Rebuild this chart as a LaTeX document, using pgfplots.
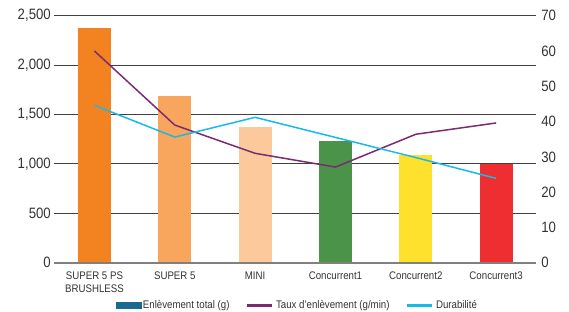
\documentclass[border=0pt]{standalone}
\usepackage{fontspec}
\setmainfont{Liberation Sans}[FakeStretch=0.88]
\usepackage{pgfplots}
\pgfplotsset{compat=1.18}
\definecolor{b1}{HTML}{F38220}
\definecolor{b2}{HTML}{F8A65E}
\definecolor{b3}{HTML}{FCC99D}
\definecolor{b4}{HTML}{4A9349}
\definecolor{b5}{HTML}{FEE12C}
\definecolor{b6}{HTML}{EE2E30}
\definecolor{legblue}{HTML}{1A6A8E}
\definecolor{tline}{HTML}{7B2B74}
\definecolor{dline}{HTML}{19B9E8}
\definecolor{txt}{HTML}{333333}
\begin{document}
\begin{tikzpicture}
\path[use as bounding box] (-54.3bp,-49.3bp) rectangle (514.7bp,262.7bp);
\begin{axis}[
 at={(0,0)}, anchor=south west,
 scale only axis, width=482bp, height=247bp,
 xmin=-0.5, xmax=5.5, ymin=0, ymax=2500,
 ytick={0,500,...,2500},
 xtick={0,...,5},
 xticklabels={{SUPER 5 PS\\BRUSHLESS},SUPER 5,MINI,Concurrent1,Concurrent2,Concurrent3},
 xticklabel style={align=center, font=\fontsize{11bp}{12.3bp}\selectfont, text=txt, anchor=north, yshift=-6bp},
 yticklabel style={font=\fontsize{15bp}{18bp}\selectfont, text=txt},
 /pgf/number format/assume math mode=true,
 /pgf/number format/1000 sep={,},
 scaled y ticks=false,
 axis line style={draw=none},
 major tick length=0pt,
 ymajorgrids, major grid style={black!75, line width=0.9bp},
 clip=false,
]
\addplot[ybar, bar width=33bp, bar shift=0pt, fill=b1, draw=none] coordinates {(0,2380)};
\addplot[ybar, bar width=33bp, bar shift=0pt, fill=b2, draw=none] coordinates {(1,1690)};
\addplot[ybar, bar width=33bp, bar shift=0pt, fill=b3, draw=none] coordinates {(2,1375)};
\addplot[ybar, bar width=33bp, bar shift=0pt, fill=b4, draw=none] coordinates {(3,1230)};
\addplot[ybar, bar width=33bp, bar shift=0pt, fill=b5, draw=none] coordinates {(4,1090)};
\addplot[ybar, bar width=33bp, bar shift=0pt, fill=b6, draw=none] coordinates {(5,1000)};
\draw[black!50, line width=1.6bp] (rel axis cs:0,0) -- (rel axis cs:1,0);
\end{axis}
\begin{axis}[
 at={(0,0)}, anchor=south west,
 scale only axis, width=482bp, height=247bp,
 xmin=-0.5, xmax=5.5, ymin=0, ymax=70,
 ytick={0,10,...,70},
 axis x line=none, axis y line*=right,
 axis line style={draw=none},
 major tick length=0pt,
 yticklabel style={font=\fontsize{15bp}{18bp}\selectfont, text=txt, xshift=1.5bp},
 /pgf/number format/assume math mode=true,
 legend columns=3,
 legend cell align=left,
 legend style={draw=none, fill=none, at={(0.504,-0.174)}, anchor=center,
   font=\fontsize{11bp}{13bp}\selectfont, text=txt,
   /tikz/every even column/.append style={column sep=14bp}},
]
\addlegendimage{legend image code/.code={\fill[legblue] (0bp,-3bp) rectangle (25bp,3bp);}}
\addlegendentry{Enlèvement total (g)}
\addplot[tline, line width=1.5bp, legend image code/.code={\draw[tline, line width=3.5bp] (0bp,0bp) -- (25bp,0bp);}]
 coordinates {(0,60) (1,39) (2,31) (3,27.1) (4,36.4) (5,39.6)};
\addlegendentry{Taux d'enlèvement (g/min)}
\addplot[dline, line width=1.5bp, legend image code/.code={\draw[dline, line width=3.5bp] (0bp,0bp) -- (25bp,0bp);}]
 coordinates {(0,44.6) (1,35.6) (2,41.2) (3,35.5) (4,29.8) (5,23.9)};
\addlegendentry{Durabilité}
\end{axis}
\end{tikzpicture}
\end{document}
